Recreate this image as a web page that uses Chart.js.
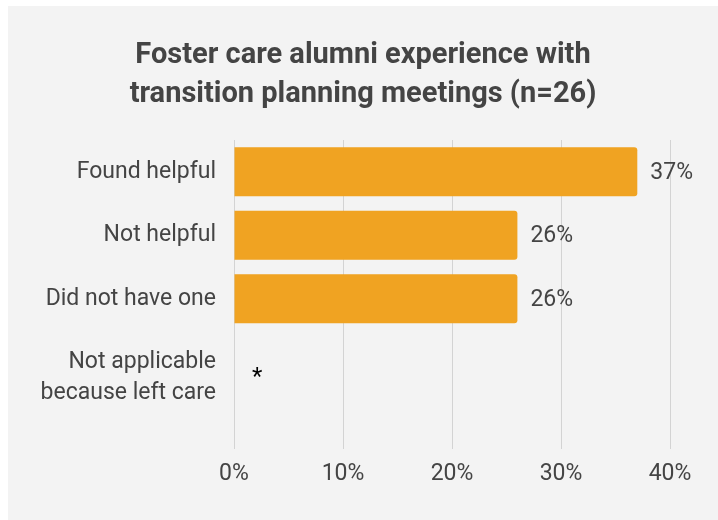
<!DOCTYPE html>
<html>
<head>
<meta charset="utf-8">
<script src="https://cdn.jsdelivr.net/npm/chart.js@4"></script>
<style>
  body { margin: 0; background: #ffffff; }
  #wrap { position: absolute; left: 8px; top: 6px; width: 710px; height: 514px; background: #f3f3f3; }
</style>
</head>
<body>
<div id="wrap"><canvas id="chart" width="710" height="514"></canvas></div>
<script>
// chart data
const categories = [
    'Found helpful',
    'Not helpful',
    'Did not have one',
    ['', 'Not applicable', 'because left care']
];
const values = [37, 26, 26, 0];
const valueLabels = ['37%', '26%', '26%', '*'];
const tickValues = [0, 10, 20, 30, 40];

const textColor = '#444444';
const barColor = '#f0a322';

// draws the value next to each bar
const barLabels = {
    id: 'barLabels',
    afterDatasetsDraw(chart) {
        const ctx = chart.ctx;
        const meta = chart.getDatasetMeta(0);
        ctx.save();
        ctx.textAlign = 'left';
        ctx.textBaseline = 'middle';
        meta.data.forEach((bar, i) => {
            const label = valueLabels[i];
            if (label === '*') {
                ctx.font = '24px Roboto';
                ctx.fillStyle = '#000000';
                ctx.fillText(label, bar.x + 18, bar.y + 16);
            } else {
                ctx.font = '23px Roboto';
                ctx.fillStyle = textColor;
                ctx.fillText(label, bar.x + 13, bar.y + 1);
            }
        });
        ctx.restore();
    }
};

new Chart(document.getElementById('chart'), {
    type: 'bar',
    data: {
        labels: categories,
        datasets: [{
            data: values,
            backgroundColor: barColor,
            borderRadius: 3,
            barPercentage: 0.772,
            categoryPercentage: 1
        }]
    },
    options: {
        indexAxis: 'y',
        responsive: false,
        animation: false,
        layout: { padding: 0 },
        plugins: {
            legend: { display: false },
            tooltip: { enabled: false },
            title: {
                display: true,
                text: ['Foster care alumni experience with', 'transition planning meetings (n=26)'],
                color: textColor,
                font: { family: 'Roboto', size: 29, weight: 'bold', lineHeight: 39 / 29 },
                padding: { top: 30, bottom: 26 }
            }
        },
        scales: {
            x: {
                min: 0,
                max: 40,
                afterBuildTicks: s => { s.ticks = tickValues.map(v => ({ value: v })); },
                afterFit: s => { s.height = 126; },
                grid: { color: '#d3d3d3', tickLength: 55, tickColor: '#d3d3d3' },
                border: { display: false },
                ticks: {
                    color: textColor,
                    font: { family: 'Roboto', size: 23 },
                    padding: 11,
                    callback: v => v + '%'
                }
            },
            y: {
                afterFit: s => { s.width = 226; },
                grid: { display: false, drawTicks: false },
                border: { display: false },
                ticks: {
                    autoSkip: false,
                    color: textColor,
                    font: { family: 'Roboto', size: 23, lineHeight: 31 / 23 },
                    padding: 18
                }
            },
            y2: {
                type: 'category',
                labels: categories,
                position: 'right',
                afterFit: s => { s.width = 48; },
                grid: { display: false, drawTicks: false },
                border: { display: false },
                ticks: { display: false }
            }
        }
    },
    plugins: [barLabels]
});
</script>
</body>
</html>
